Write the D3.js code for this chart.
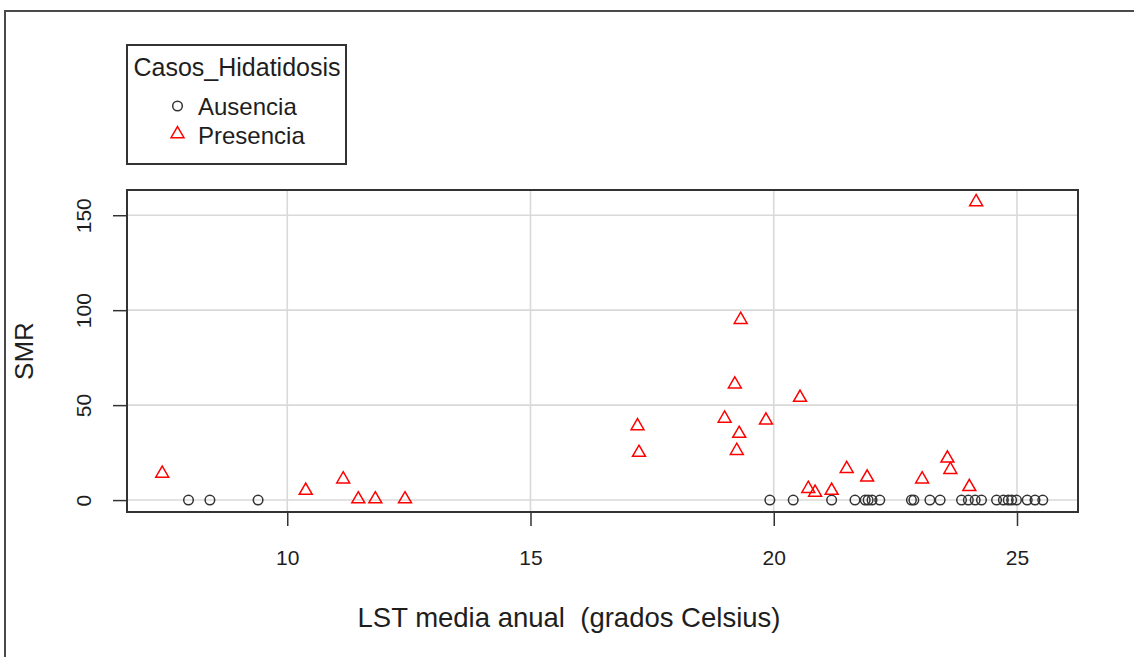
<!DOCTYPE html>
<html>
<head>
<meta charset="utf-8">
<script src="https://cdn.jsdelivr.net/npm/d3@7"></script>
<style>
  html, body { margin: 0; padding: 0; background: #fff; }
  svg { display: block; font-family: "Liberation Sans", Arial, sans-serif; }
</style>
</head>
<body>
<svg id="chart" width="1134" height="657"></svg>
<script>
// ---- Data ----
const ausenciaX = [7.97, 8.41, 9.40, 19.92, 20.40, 21.19, 21.67, 21.88, 21.94, 22.02, 22.18,
  22.83, 22.88, 23.21, 23.42, 23.86, 24.00, 24.14, 24.27, 24.58, 24.72, 24.82, 24.89,
  24.99, 25.21, 25.37, 25.53];
const ausenciaY = ausenciaX.map(() => 0);
const presenciaX = [7.43, 10.38, 11.15, 11.46, 11.81, 12.42, 17.20, 17.23, 18.99, 19.20,
  19.32, 19.29, 19.24, 19.84, 20.54, 20.71, 20.85, 21.19, 21.50, 21.92, 23.05, 23.57,
  23.63, 24.02, 24.16];
const presenciaY = [14, 5, 11, 0.5, 0.5, 0.5, 39, 25, 43, 61,
  95, 35, 26, 42, 54, 6, 4, 5, 16.5, 12, 11, 22,
  16, 7, 157];
const xTicks = [10, 15, 20, 25];
const yTicks = [0, 50, 100, 150];
const legendTitle = "Casos_Hidatidosis";
const legendLabels = ["Ausencia", "Presencia"];
const xTitle = "LST media anual  (grados Celsius)";
const yTitle = "SMR";

// ---- Layout ----
const svg = d3.select("#chart");
const box = { left: 127, right: 1078, top: 190, bottom: 512 };
const allX = ausenciaX.concat(presenciaX);
const allY = ausenciaY.concat(presenciaY);
function pad(ext) { const d = (ext[1] - ext[0]) * 0.04; return [ext[0] - d, ext[1] + d]; }
const x = d3.scaleLinear().domain(pad(d3.extent(allX))).range([box.left, box.right]);
const y = d3.scaleLinear().domain(pad(d3.extent(allY))).range([box.bottom, box.top]);

const dark = "#333333";
const txt = "#1e1e1e";

// outer frame
svg.append("rect").attr("x", 5).attr("y", 11).attr("width", 1200).attr("height", 700)
  .attr("fill", "none").attr("stroke", "#4a4a4a").attr("stroke-width", 2);

// grid
const grid = svg.append("g");
grid.selectAll("line.vx").data(xTicks).join("line")
  .attr("x1", d => x(d)).attr("x2", d => x(d))
  .attr("y1", box.top).attr("y2", box.bottom)
  .attr("stroke", "#d9d9d9").attr("stroke-width", 1.6);
grid.selectAll("line.hy").data(yTicks).join("line")
  .attr("y1", d => y(d)).attr("y2", d => y(d))
  .attr("x1", box.left).attr("x2", box.right)
  .attr("stroke", "#d9d9d9").attr("stroke-width", 1.6);

// axes
const xAxis = d3.axisBottom(x).tickValues(xTicks).tickSize(14).tickPadding(24).tickFormat(d3.format("d"));
const gx = svg.append("g").attr("transform", `translate(0,${box.bottom})`).call(xAxis);
gx.select(".domain").remove();
gx.selectAll(".tick line").attr("stroke", dark).attr("stroke-width", 1.5);
gx.selectAll(".tick text").attr("fill", txt).attr("font-size", 21)
  .attr("font-family", "Liberation Sans, Arial, sans-serif");

const yAxis = d3.axisLeft(y).tickValues(yTicks).tickSize(14).tickPadding(8).tickFormat(d3.format("d"));
const gy = svg.append("g").attr("transform", `translate(${box.left},0)`).call(yAxis);
gy.select(".domain").remove();
gy.selectAll(".tick line").attr("stroke", dark).attr("stroke-width", 1.5);
gy.selectAll(".tick text").attr("fill", txt).attr("font-size", 21)
  .attr("font-family", "Liberation Sans, Arial, sans-serif")
  .attr("text-anchor", "middle").attr("x", null).attr("dy", null)
  .attr("transform", "translate(-36,0) rotate(-90)");

// plot box
svg.append("rect").attr("x", box.left).attr("y", box.top)
  .attr("width", box.right - box.left).attr("height", box.bottom - box.top)
  .attr("fill", "none").attr("stroke", dark).attr("stroke-width", 2);

// points
const R = 4.8;
const circ = d3.symbol().type(d3.symbolCircle).size(Math.PI * R * R);
const tri = d3.symbol().type(d3.symbolTriangle).size(Math.PI * R * R);
svg.append("g").selectAll("path").data(d3.range(ausenciaX.length)).join("path")
  .attr("d", circ)
  .attr("transform", i => `translate(${x(ausenciaX[i])},${y(ausenciaY[i])})`)
  .attr("fill", "none").attr("stroke", dark).attr("stroke-width", 1.5);
svg.append("g").selectAll("path").data(d3.range(presenciaX.length)).join("path")
  .attr("d", tri)
  .attr("transform", i => `translate(${x(presenciaX[i])},${y(presenciaY[i])})`)
  .attr("fill", "none").attr("stroke", "#ff0000").attr("stroke-width", 1.5);

// axis titles
svg.append("text").attr("x", 569).attr("y", 627).attr("text-anchor", "middle")
  .attr("font-size", 27.5).attr("fill", txt).style("white-space", "pre").text(xTitle);
svg.append("text").attr("transform", `translate(33,${(box.top + box.bottom) / 2}) rotate(-90)`)
  .attr("text-anchor", "middle").attr("font-size", 26).attr("fill", txt).text(yTitle);

// legend
const lg = svg.append("g");
lg.append("rect").attr("x", 127).attr("y", 45).attr("width", 219).attr("height", 119)
  .attr("fill", "#fff").attr("stroke", dark).attr("stroke-width", 2);
lg.append("text").attr("x", 237).attr("y", 76).attr("text-anchor", "middle")
  .attr("font-size", 25).attr("fill", txt).text(legendTitle);
lg.append("path").attr("d", circ).attr("transform", "translate(177.5,106)")
  .attr("fill", "none").attr("stroke", dark).attr("stroke-width", 1.5);
lg.append("path").attr("d", tri).attr("transform", "translate(177.5,134)")
  .attr("fill", "none").attr("stroke", "#ff0000").attr("stroke-width", 1.5);
lg.append("text").attr("x", 198).attr("y", 115).attr("font-size", 24).attr("fill", txt).text(legendLabels[0]);
lg.append("text").attr("x", 198).attr("y", 144).attr("font-size", 24).attr("fill", txt).text(legendLabels[1]);
</script>
</body>
</html>
